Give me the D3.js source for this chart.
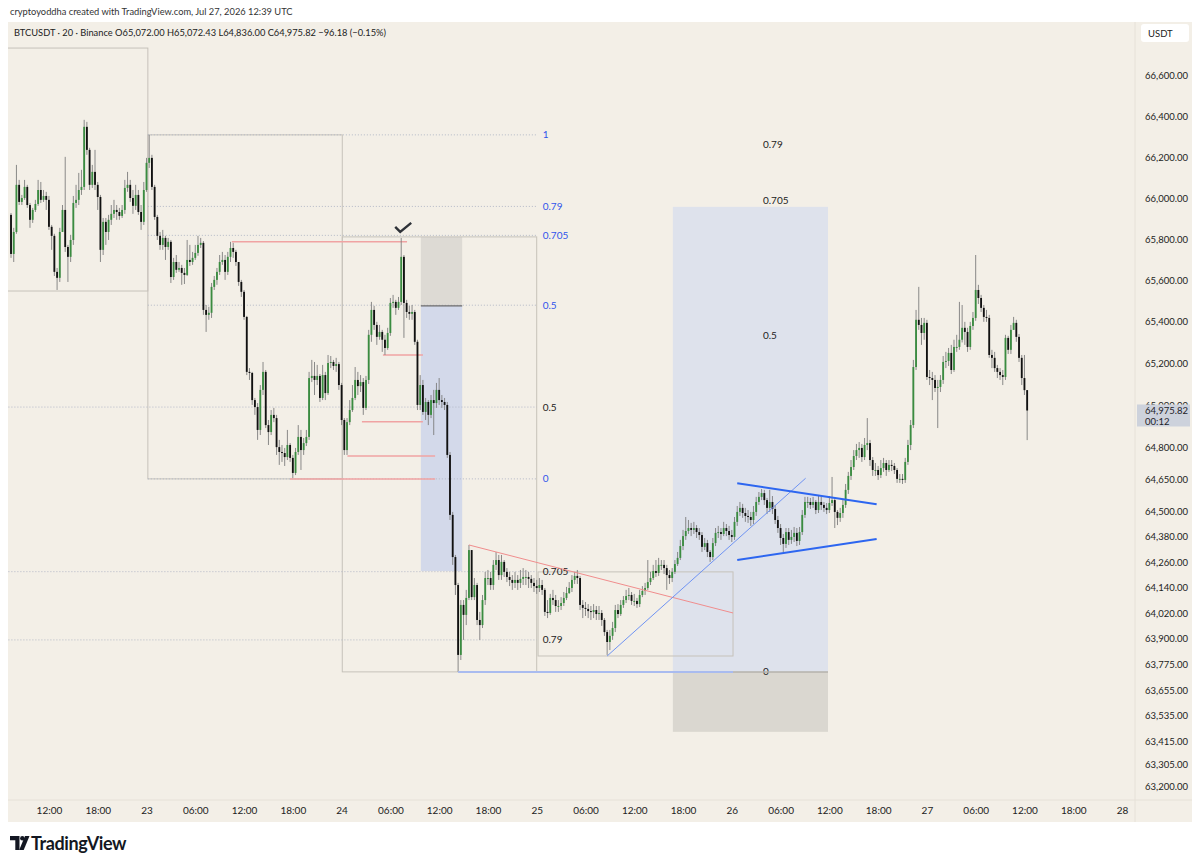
<!DOCTYPE html>
<html>
<head>
<meta charset="utf-8">
<script src="https://cdn.jsdelivr.net/npm/d3@7"></script>
<style>
  body { margin: 0; background: #fff; }
  svg text { font-family: Lato, "Noto Sans", sans-serif; }
</style>
</head>
<body>
<svg id="chart" width="1200" height="866"></svg>
<script>
  // BTCUSDT 20m candles, first bar 22 Jul 07:20 UTC
  const firstOpen = 65920;
  const closes = [
    65730, 65837, 66066, 65983, 66002, 66056, 65968, 65896, 65944, 65973,
    66041, 65993, 66012, 65993, 65862, 65818, 65643, 65614, 65837, 65944,
    65764, 65716, 65798, 65978, 65993, 66041, 66056, 66348, 66236, 66066,
    66129, 66066, 66007, 65750, 65886, 65837, 65896, 65925, 65944, 65934,
    65915, 65944, 66051, 66066, 66002, 65964, 66017, 65934, 65886, 66041,
    66173, 66197, 66056, 65910, 65818, 65774, 65808, 65764, 65789, 65618,
    65691, 65653, 65662, 65638, 65628, 65701, 65691, 65711, 65735, 65774,
    65784, 65458, 65434, 65444, 65570, 65604, 65643, 65691, 65701, 65643,
    65716, 65759, 65740, 65691, 65594, 65546, 65424, 65158, 65153, 65025,
    64992, 64884, 65073, 65158, 64907, 64874, 64955, 64940, 64803, 64780,
    64775, 64756, 64813, 64752, 64681, 64780, 64851, 64789, 64822, 64851,
    65129, 65139, 65120, 65139, 65035, 65143, 65058, 65200, 65205, 65186,
    65195, 65096, 64931, 64789, 64921, 64978, 65035, 65120, 65091, 65110,
    64988, 65120, 65337, 65458, 65385, 65327, 65351, 65313, 65273, 65346,
    65492, 65497, 65468, 65497, 65716, 65492, 65448, 65439, 65448, 65303,
    65002, 65096, 64969, 65016, 64955, 65025, 65011, 65073, 65025, 65016,
    65002, 64766, 64483, 64284, 64152, 63822, 64058, 64011, 64091, 64317,
    64095, 64152, 63987, 63963, 64081, 64185, 64185, 64152, 64247, 64270,
    64199, 64261, 64214, 64190, 64176, 64162, 64176, 64162, 64181, 64190,
    64190, 64181, 64162, 64147, 64138, 64152, 64129, 64025, 64020, 64091,
    64081, 64053, 64053, 64067, 64091, 64114, 64138, 64176, 64195, 64185,
    64058, 64044, 64039, 64029, 64025, 64034, 64015, 64020, 63987, 63930,
    63883, 63912, 63949, 64034, 64015, 64058, 64081, 64100, 64105, 64077,
    64077, 64062, 64105, 64124, 64138, 64166, 64185, 64218, 64209, 64247,
    64247, 64232, 64199, 64185, 64214, 64251, 64280, 64336, 64383, 64407,
    64421, 64412, 64421, 64402, 64388, 64332, 64350, 64308, 64284, 64350,
    64398, 64402, 64393, 64421, 64407, 64388, 64379, 64450, 64497, 64516,
    64492, 64478, 64473, 64459, 64497, 64544, 64568, 64586, 64553, 64516,
    64544, 64511, 64459, 64421, 64374, 64346, 64402, 64365, 64379, 64398,
    64360, 64402, 64483, 64544, 64544, 64530, 64544, 64506, 64544, 64530,
    64516, 64506, 64539, 64553, 64497, 64469, 64492, 64530, 64601, 64667,
    64709, 64761, 64789, 64799, 64756, 64813, 64822, 64742, 64695, 64695,
    64671, 64704, 64728, 64695, 64719, 64714, 64695, 64653, 64653, 64648,
    64733, 64813, 64907, 65181, 65410, 65385, 65346, 65395, 65134, 65129,
    65120, 65082, 65087, 65120, 65205, 65210, 65249, 65167, 65278, 65278,
    65313, 65371, 65351, 65278, 65380, 65419, 65555, 65516, 65468, 65424,
    65419, 65239, 65225, 65176, 65158, 65143, 65134, 65322, 65264, 65361,
    65395, 65327, 65225, 65129, 65072, 64975.82
  ];
  const highs = [
    65929, 65857, 66163, 66090, 66017, 66090, 66066, 65978, 65954, 65993,
    66090, 66080, 66041, 66032, 66012, 65871, 65828, 65662, 65857, 65968,
    66202, 65774, 65823, 66012, 66066, 66124, 66139, 66382, 66372, 66246,
    66163, 66236, 66080, 66017, 65905, 65905, 65920, 65968, 65993, 65968,
    65954, 65968, 66090, 66129, 66090, 66041, 66066, 66041, 65968, 66080,
    66197, 66309, 66212, 66066, 65920, 65837, 65847, 65818, 65808, 65798,
    65711, 65725, 65691, 65677, 65662, 65798, 65774, 65740, 65774, 65818,
    65808, 65793, 65482, 65473, 65589, 65623, 65662, 65725, 65740, 65725,
    65740, 65789, 65784, 65750, 65691, 65604, 65555, 65429, 65176, 65158,
    65035, 65011, 65096, 65205, 65167, 64931, 64978, 64988, 64955, 64837,
    64813, 64799, 64884, 64822, 64766, 64799, 64907, 64884, 64846, 64884,
    65158, 65215, 65205, 65191, 65148, 65191, 65158, 65239, 65234, 65215,
    65225, 65205, 65106, 64940, 64940, 65025, 65096, 65181, 65158, 65143,
    65129, 65139, 65361, 65497, 65478, 65400, 65385, 65361, 65337, 65371,
    65516, 65531, 65507, 65521, 65808, 65725, 65507, 65478, 65482, 65458,
    65313, 65143, 65120, 65035, 65025, 65049, 65073, 65106, 65129, 65049,
    65035, 65016, 64780, 64497, 64294, 64162, 64081, 64081, 64129, 64341,
    64317, 64185, 64162, 64025, 64105, 64214, 64223, 64214, 64270, 64308,
    64294, 64294, 64270, 64232, 64214, 64199, 64214, 64199, 64223, 64232,
    64223, 64214, 64199, 64185, 64176, 64185, 64176, 64138, 64081, 64110,
    64129, 64105, 64081, 64095, 64119, 64143, 64166, 64199, 64214, 64223,
    64195, 64081, 64072, 64062, 64053, 64062, 64053, 64053, 64034, 63996,
    63940, 63940, 63978, 64058, 64062, 64081, 64100, 64129, 64138, 64119,
    64110, 64091, 64129, 64147, 64162, 64270, 64214, 64247, 64270, 64280,
    64270, 64270, 64247, 64223, 64232, 64270, 64308, 64365, 64412, 64473,
    64459, 64445, 64450, 64435, 64421, 64402, 64374, 64365, 64317, 64374,
    64421, 64431, 64421, 64450, 64440, 64431, 64412, 64473, 64525, 64544,
    64535, 64516, 64506, 64497, 64525, 64568, 64591, 64605, 64601, 64563,
    64601, 64572, 64530, 64478, 64440, 64393, 64421, 64421, 64412, 64426,
    64421, 64426, 64506, 64568, 64568, 64563, 64568, 64553, 64577, 64568,
    64544, 64539, 64572, 64662, 64563, 64506, 64516, 64553, 64629, 64686,
    64742, 64789, 64818, 64827, 64818, 64846, 64940, 64837, 64756, 64728,
    64714, 64742, 64752, 64742, 64742, 64742, 64728, 64704, 64676, 64676,
    64752, 64837, 64931, 65215, 65458, 65570, 65419, 65419, 65410, 65167,
    65158, 65143, 65120, 65143, 65234, 65254, 65273, 65288, 65313, 65337,
    65497, 65482, 65400, 65371, 65400, 65448, 65725, 65580, 65531, 65482,
    65458, 65434, 65264, 65254, 65191, 65176, 65167, 65337, 65332, 65385,
    65424, 65410, 65341, 65239, 65239, 65072.43
  ];
  const lows = [
    65711, 65691, 65828, 65968, 65968, 65993, 65954, 65857, 65881, 65934,
    65964, 65978, 65983, 65944, 65847, 65750, 65623, 65555, 65594, 65837,
    65740, 65594, 65691, 65774, 65954, 65968, 66017, 66041, 66212, 66041,
    66051, 66041, 65944, 65691, 65725, 65774, 65798, 65871, 65905, 65896,
    65896, 65905, 65925, 66032, 65983, 65925, 65944, 65920, 65847, 65871,
    66032, 66148, 66041, 65896, 65798, 65750, 65750, 65701, 65750, 65589,
    65604, 65638, 65643, 65580, 65584, 65623, 65672, 65677, 65701, 65721,
    65759, 65434, 65351, 65410, 65419, 65555, 65580, 65628, 65677, 65604,
    65628, 65691, 65711, 65672, 65575, 65521, 65410, 65143, 65120, 65002,
    64955, 64837, 64860, 65049, 64893, 64813, 64860, 64921, 64766, 64719,
    64733, 64714, 64742, 64733, 64657, 64671, 64766, 64695, 64766, 64808,
    64837, 65110, 65049, 65096, 65016, 65025, 65025, 65049, 65176, 65167,
    65158, 65073, 64907, 64766, 64766, 64907, 64969, 65025, 65049, 65063,
    64955, 64978, 65101, 65303, 65361, 65288, 65313, 65254, 65239, 65264,
    65332, 65468, 65434, 65458, 65482, 65322, 65419, 65410, 65410, 65288,
    64978, 64978, 64955, 64931, 64907, 64940, 64860, 64988, 65002, 64988,
    64978, 64752, 64459, 64247, 64105, 63742, 63798, 63893, 63963, 64081,
    64081, 64081, 63963, 63893, 63949, 64058, 64152, 64129, 64129, 64223,
    64176, 64176, 64190, 64166, 64147, 64129, 64138, 64129, 64138, 64152,
    64152, 64138, 64138, 64119, 64110, 64119, 64105, 64006, 63996, 64011,
    64058, 64025, 64025, 64034, 64053, 64081, 64110, 64119, 64157, 64157,
    64034, 63996, 64006, 63996, 63987, 63996, 63987, 63987, 63959, 63912,
    63822, 63845, 63893, 63930, 63996, 64006, 64044, 64067, 64081, 64058,
    64053, 64044, 64048, 64095, 64105, 64129, 64152, 64176, 64190, 64195,
    64223, 64204, 64129, 64157, 64166, 64204, 64242, 64270, 64317, 64365,
    64393, 64383, 64393, 64374, 64365, 64308, 64317, 64284, 64261, 64270,
    64336, 64374, 64365, 64383, 64383, 64365, 64355, 64365, 64431, 64478,
    64469, 64450, 64445, 64431, 64440, 64478, 64530, 64553, 64530, 64487,
    64497, 64487, 64440, 64398, 64341, 64308, 64327, 64341, 64346, 64355,
    64336, 64341, 64388, 64469, 64516, 64511, 64516, 64487, 64492, 64506,
    64497, 64487, 64492, 64525, 64421, 64435, 64450, 64469, 64516, 64582,
    64648, 64695, 64742, 64752, 64733, 64742, 64789, 64714, 64667, 64667,
    64648, 64657, 64686, 64667, 64686, 64690, 64676, 64634, 64634, 64629,
    64634, 64719, 64789, 64893, 65167, 65361, 65288, 65313, 65120, 65096,
    65025, 65063, 64893, 65063, 65101, 65176, 65186, 65148, 65158, 65254,
    65264, 65300, 65288, 65254, 65264, 65361, 65405, 65487, 65448, 65400,
    65400, 65225, 65176, 65158, 65129, 65120, 65096, 65120, 65244, 65244,
    65361, 65303, 65205, 65096, 65049, 64836
  ];

  const yTicks = [66600, 66400, 66200, 66000, 65800, 65600, 65400, 65200, 65000, 64800, 64650,
    64500, 64380, 64260, 64140, 64020, 63900, 63775, 63655, 63535, 63415, 63305, 63200];

  const t = (d, h, m = 0) => new Date(Date.UTC(2026, 6, d, h, m));
  const startTime = t(22, 7, 20);
  const barMs = 20 * 60 * 1000;

  // drawings: [time0, time1, price0, price1]
  const boxes = [
    [t(22, 0), t(23, 0, 10), 66731, 65550],
    [t(23, 0, 10), t(24, 0, 5), 66309, 64653],
    [t(24, 0, 5), t(25, 0), 65813, 63742],
    [t(25, 0, 10), t(26, 0, 9), 64214, 63817]
  ];
  const fibBlue = { t0: t(23, 0, 10), t1: t(25, 0), p1: 66309, p0: 64653, levels: [1, 0.79, 0.705, 0.5, 0] };
  const fibBlack = { t0: t(22, 0), t1: t(25, 0), p0: 66887, p1: 63097, levels: [0, 0.5, 0.705, 0.79, 1] };
  const fibRight = { t0: t(26, 3, 50), p0: 63742, p1: 66930, levels: [0.79, 0.705, 0.5, 0] };
  const shortPos = { t0: t(24, 9, 45), t1: t(24, 14, 50), stop: 65813, entry: 65478, target: 64218 };
  const longPos = { t0: t(25, 16, 45), t1: t(26, 11, 50), target: 65959, entry: 63742, stop: 63459 };
  const redLevels = [
    [t(23, 10, 30), t(24, 8, 3), 65789],
    [t(24, 5, 5), t(24, 10, 0), 65239],
    [t(24, 2, 30), t(24, 10, 0), 64923],
    [t(24, 0, 43), t(24, 11, 30), 64761],
    [t(23, 17, 39), t(24, 11, 30), 64653]
  ];
  const trendLines = [
    { a: [t(24, 14, 20), 63742], b: [t(26, 0, 9), 63742], kind: "base" },
    { a: [t(24, 15, 40), 64341], b: [t(26, 0, 9), 64020], kind: "red" },
    { a: [t(25, 8, 40), 63817], b: [t(26, 9, 5), 64656], kind: "thin" },
    { a: [t(26, 0, 40), 64632], b: [t(26, 17, 49), 64533], kind: "thick" },
    { a: [t(26, 0, 40), 64270], b: [t(26, 17, 49), 64369], kind: "thick" }
  ];
  const checkAt = [t(24, 7, 20), 65808];

  const candles = closes.map((c, i) => {
    const o = i === 0 ? firstOpen : closes[i - 1];
    return {
      t: new Date(+startTime + i * barMs), o, c,
      h: Math.max(highs[i] ?? c, o, c),
      l: Math.min(lows[i] ?? c, o, c)
    };
  });

  const svg = d3.select("#chart");
  const plot = { left: 8, right: 1135, top: 22, bottom: 800 };
  const bg = "#f3efe7";

  const x = d3.scaleUtc().domain([t(23, 0), t(28, 0)]).range([146.5, 1122]);
  const y = d3.scaleLinear().domain([66600, 65200, 63200]).range([75, 363, 786.7]);

  svg.append("rect").attr("x", 8).attr("y", 22).attr("width", 1184).attr("height", 800).attr("fill", bg);

  svg.append("defs").append("clipPath").attr("id", "plotClip")
    .append("rect").attr("x", plot.left).attr("y", plot.top)
    .attr("width", plot.right - plot.left).attr("height", plot.bottom - plot.top);

  const g = svg.append("g").attr("clip-path", "url(#plotClip)");

  // position tools
  function zone(t0, t1, pa, pb, fill) {
    g.append("rect").attr("x", x(t0)).attr("width", x(t1) - x(t0))
      .attr("y", y(Math.max(pa, pb))).attr("height", Math.abs(y(pa) - y(pb)))
      .attr("fill", fill);
  }
  zone(shortPos.t0, shortPos.t1, shortPos.stop, shortPos.entry, "#dddad4");
  zone(shortPos.t0, shortPos.t1, shortPos.entry, shortPos.target, "#d3d9ea");
  zone(longPos.t0, longPos.t1, longPos.target, longPos.entry, "#dee2ec");
  zone(longPos.t0, longPos.t1, longPos.entry, longPos.stop, "#dad7d0");

  // rectangles
  g.selectAll("rect.box").data(boxes).join("rect").attr("class", "box")
    .attr("x", d => x(d[0])).attr("width", d => x(d[1]) - x(d[0]))
    .attr("y", d => y(d[2])).attr("height", d => y(d[3]) - y(d[2]))
    .attr("fill", "none").attr("stroke", "#c6c2ba").attr("stroke-width", 1);

  // fib levels
  function fibLines(f, color) {
    g.selectAll(null).data(f.levels).join("line")
      .attr("x1", x(f.t0)).attr("x2", x(f.t1))
      .attr("y1", l => y(f.p0 + (f.p1 - f.p0) * l)).attr("y2", l => y(f.p0 + (f.p1 - f.p0) * l))
      .attr("stroke", "#b3b8c6").attr("stroke-width", 1).attr("stroke-dasharray", "1,2");
    g.selectAll(null).data(f.levels).join("text")
      .attr("x", x(f.t1) + 6).attr("y", l => y(f.p0 + (f.p1 - f.p0) * l)).attr("dy", "0.35em")
      .attr("font-size", 10).attr("fill", color).text(l => l);
  }
  fibLines(fibBlack, "#222");
  fibLines(fibBlue, "#2f54eb");

  g.selectAll(null).data(fibRight.levels).join("text")
    .attr("x", x(fibRight.t0)).attr("y", l => y(fibRight.p0 + (fibRight.p1 - fibRight.p0) * l)).attr("dy", "0.35em")
    .attr("font-size", 10).attr("fill", "#222").text(l => l);

  // entry lines of the position tools
  g.append("line").attr("x1", x(shortPos.t0)).attr("x2", x(shortPos.t1))
    .attr("y1", y(shortPos.entry)).attr("y2", y(shortPos.entry)).attr("stroke", "#6b6b6b").attr("stroke-width", 1.2);
  g.append("line").attr("x1", x(longPos.t0)).attr("x2", x(longPos.t1))
    .attr("y1", y(longPos.entry)).attr("y2", y(longPos.entry)).attr("stroke", "#b5b2ac").attr("stroke-width", 1.5);

  // red horizontal levels
  g.selectAll(null).data(redLevels).join("line")
    .attr("x1", d => x(d[0])).attr("x2", d => x(d[1]))
    .attr("y1", d => y(d[2])).attr("y2", d => y(d[2]))
    .attr("stroke", "#f0a3a3").attr("stroke-width", 1.5);

  // candles
  const step = x(new Date(+startTime + barMs)) - x(startTime);
  const bw = step * 0.68;
  const cg = g.append("g");
  cg.selectAll("line").data(candles).join("line")
    .attr("x1", d => x(d.t)).attr("x2", d => x(d.t))
    .attr("y1", d => y(d.h)).attr("y2", d => y(d.l))
    .attr("stroke", "#7d7d7d").attr("stroke-width", 0.9);
  cg.selectAll("rect").data(candles).join("rect")
    .attr("x", d => x(d.t) - bw / 2).attr("width", bw)
    .attr("y", d => y(Math.max(d.o, d.c)))
    .attr("height", d => Math.max(1, Math.abs(y(d.o) - y(d.c))))
    .attr("fill", d => d.c >= d.o ? "#3a8c40" : "#111");

  // trend lines
  const lineStyle = {
    base: ["#a9bbef", 2], red: ["#f08d8d", 1], thin: ["#6f93f2", 1], thick: ["#2d66f0", 2]
  };
  g.selectAll(null).data(trendLines).join("line")
    .attr("x1", d => x(d.a[0])).attr("y1", d => y(d.a[1]))
    .attr("x2", d => x(d.b[0])).attr("y2", d => y(d.b[1]))
    .attr("stroke", d => lineStyle[d.kind][0]).attr("stroke-width", d => lineStyle[d.kind][1]);

  // check mark over the top wick
  const cx0 = x(checkAt[0]), cy0 = y(checkAt[1]);
  g.append("path")
    .attr("d", `M${cx0 - 6},${cy0 - 11} L${cx0 - 1},${cy0 - 6} L${cx0 + 10},${cy0 - 15}`)
    .attr("fill", "none").attr("stroke", "#2e3238").attr("stroke-width", 2.4)
    .attr("stroke-linejoin", "miter");

  // axes
  svg.append("line").attr("x1", plot.right).attr("x2", plot.right).attr("y1", plot.top).attr("y2", 822)
    .attr("stroke", "#e6e1d8");
  svg.append("line").attr("x1", plot.left).attr("x2", 1192).attr("y1", plot.bottom).attr("y2", plot.bottom)
    .attr("stroke", "#e6e1d8");

  const yAxis = svg.append("g").attr("transform", `translate(${plot.right},0)`)
    .call(d3.axisRight(y).tickValues(yTicks).tickSize(0).tickPadding(10).tickFormat(d3.format(",.2f")));
  yAxis.select(".domain").remove();
  yAxis.selectAll("text").attr("font-size", 9.5).attr("fill", "#222")
    .attr("font-family", "Lato, 'Noto Sans', sans-serif");

  const xTicks = d3.utcHour.every(6).range(t(22, 12), t(28, 1));
  const xAxis = svg.append("g").attr("transform", `translate(0,${plot.bottom})`)
    .call(d3.axisBottom(x).tickValues(xTicks).tickSize(0).tickPadding(7)
      .tickFormat(d => d.getUTCHours() === 0 ? d3.utcFormat("%-d")(d) : d3.utcFormat("%H:%M")(d)));
  xAxis.select(".domain").remove();
  xAxis.selectAll("text").attr("font-size", 10).attr("fill", "#222")
    .attr("font-family", "Lato, 'Noto Sans', sans-serif");

  // currency badge
  svg.append("rect").attr("x", 1141).attr("y", 24).attr("width", 48).attr("height", 18)
    .attr("rx", 3).attr("fill", "#fff");
  svg.append("text").attr("x", 1148).attr("y", 36.5).attr("font-size", 9.5).attr("fill", "#222").text("USDT");

  // last price label (drawn over the axis, as in the screenshot)
  const last = candles[candles.length - 1];
  const ly = y(last.c);
  svg.append("rect").attr("x", 1137).attr("y", ly - 6).attr("width", 53).attr("height", 22)
    .attr("fill", "#cdd2dc");
  svg.append("text").attr("x", 1145).attr("y", ly).attr("dy", "0.35em").attr("font-size", 9.5)
    .attr("fill", "#1e2229").text(d3.format(",.2f")(last.c));
  svg.append("text").attr("x", 1145).attr("y", ly + 11).attr("dy", "0.35em").attr("font-size", 9.5)
    .attr("fill", "#1e2229").text("00:12");

  // header + legend
  svg.append("text").attr("x", 10).attr("y", 14.5).attr("font-size", 9.3).attr("fill", "#333")
    .text("cryptoyoddha created with TradingView.com, Jul 27, 2026 12:39 UTC");
  const f2 = d3.format(",.2f");
  const chg = last.c - last.o;
  const signed = v => (v < 0 ? "\u2212" : "+") + f2(Math.abs(v));
  svg.append("text").attr("x", 14).attr("y", 36).attr("font-size", 9.3).attr("fill", "#222")
    .text(`BTCUSDT · 20 · Binance O${f2(last.o)} H${f2(last.h)} L${f2(last.l)} C${f2(last.c)} ${signed(chg)} (${signed(chg / last.o * 100)}%)`);

  // TradingView logo
  const logo = svg.append("g").attr("fill", "#131722");
  logo.append("path").attr("d", "M10,836 h9.5 v14 h-4.2 v-9.8 h-5.3 z");
  logo.append("circle").attr("cx", 22.3).attr("cy", 838.3).attr("r", 2.2);
  logo.append("path").attr("d", "M25,836 h4.5 l-5.8 14 h-4.5 z");
  svg.append("text").attr("x", 31).attr("y", 849.5).attr("font-size", 18).attr("font-weight", 700)
    .attr("fill", "#131722").attr("font-family", "Roboto, sans-serif").attr("letter-spacing", -0.4)
    .text("TradingView");
</script>
</body>
</html>
